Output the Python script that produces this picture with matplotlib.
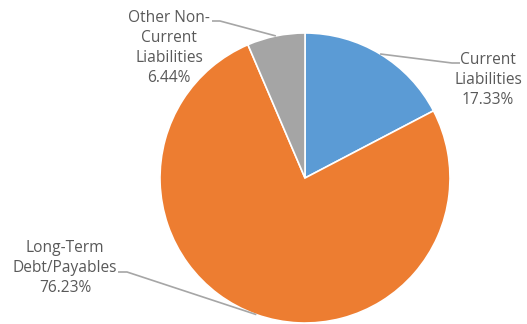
import numpy as np
import matplotlib.pyplot as plt

# Data
labels = ['Current\nLiabilities', 'Long-Term\nDebt/Payables', 'Other Non-\nCurrent\nLiabilities']
shares = [17.33, 76.23, 6.44]
colors = ['#5B9BD5', '#ED7D31', '#A5A5A5']

W, H = 527, 324

fig = plt.figure(figsize=(W / 100, H / 100), dpi=100)
ax = fig.add_axes([0, 0, 1, 1])

wedges, _ = ax.pie(shares, colors=colors, startangle=90, counterclock=False,
                   center=(305, H - 178), radius=145,
                   wedgeprops=dict(edgecolor='white', linewidth=1.2))

# pie() resets the limits, so set the pixel frame afterwards
ax.set_xlim(0, W)
ax.set_ylim(0, H)
ax.set_aspect('auto')
ax.axis('off')

# label box centre, anchor where leader meets the text, knee point (image px)
label_pos = [(488, 80), (65, 268), (169, 48)]
anchors = [(460, 63), (118, 272), (212, 21)]
knees = [(452, 63), (127, 272), (220, 21)]

for w, lab, val, pos, anc, knee in zip(wedges, labels, shares, label_pos, anchors, knees):
    mid = np.deg2rad((w.theta1 + w.theta2) / 2)
    cx, cy = w.center
    ex = cx + w.r * np.cos(mid)
    ey = cy + w.r * np.sin(mid)
    ax.plot([anc[0], knee[0], ex], [H - anc[1], H - knee[1], ey],
            color='#A6A6A6', lw=1.2, solid_capstyle='butt', zorder=3)
    ax.text(pos[0], H - pos[1], f'{lab}\n{val:.2f}%', ha='center', va='center',
            fontsize=11.2, color='#595959', linespacing=1.35, family='Open Sans')

fig.savefig('out.png', dpi=100)
